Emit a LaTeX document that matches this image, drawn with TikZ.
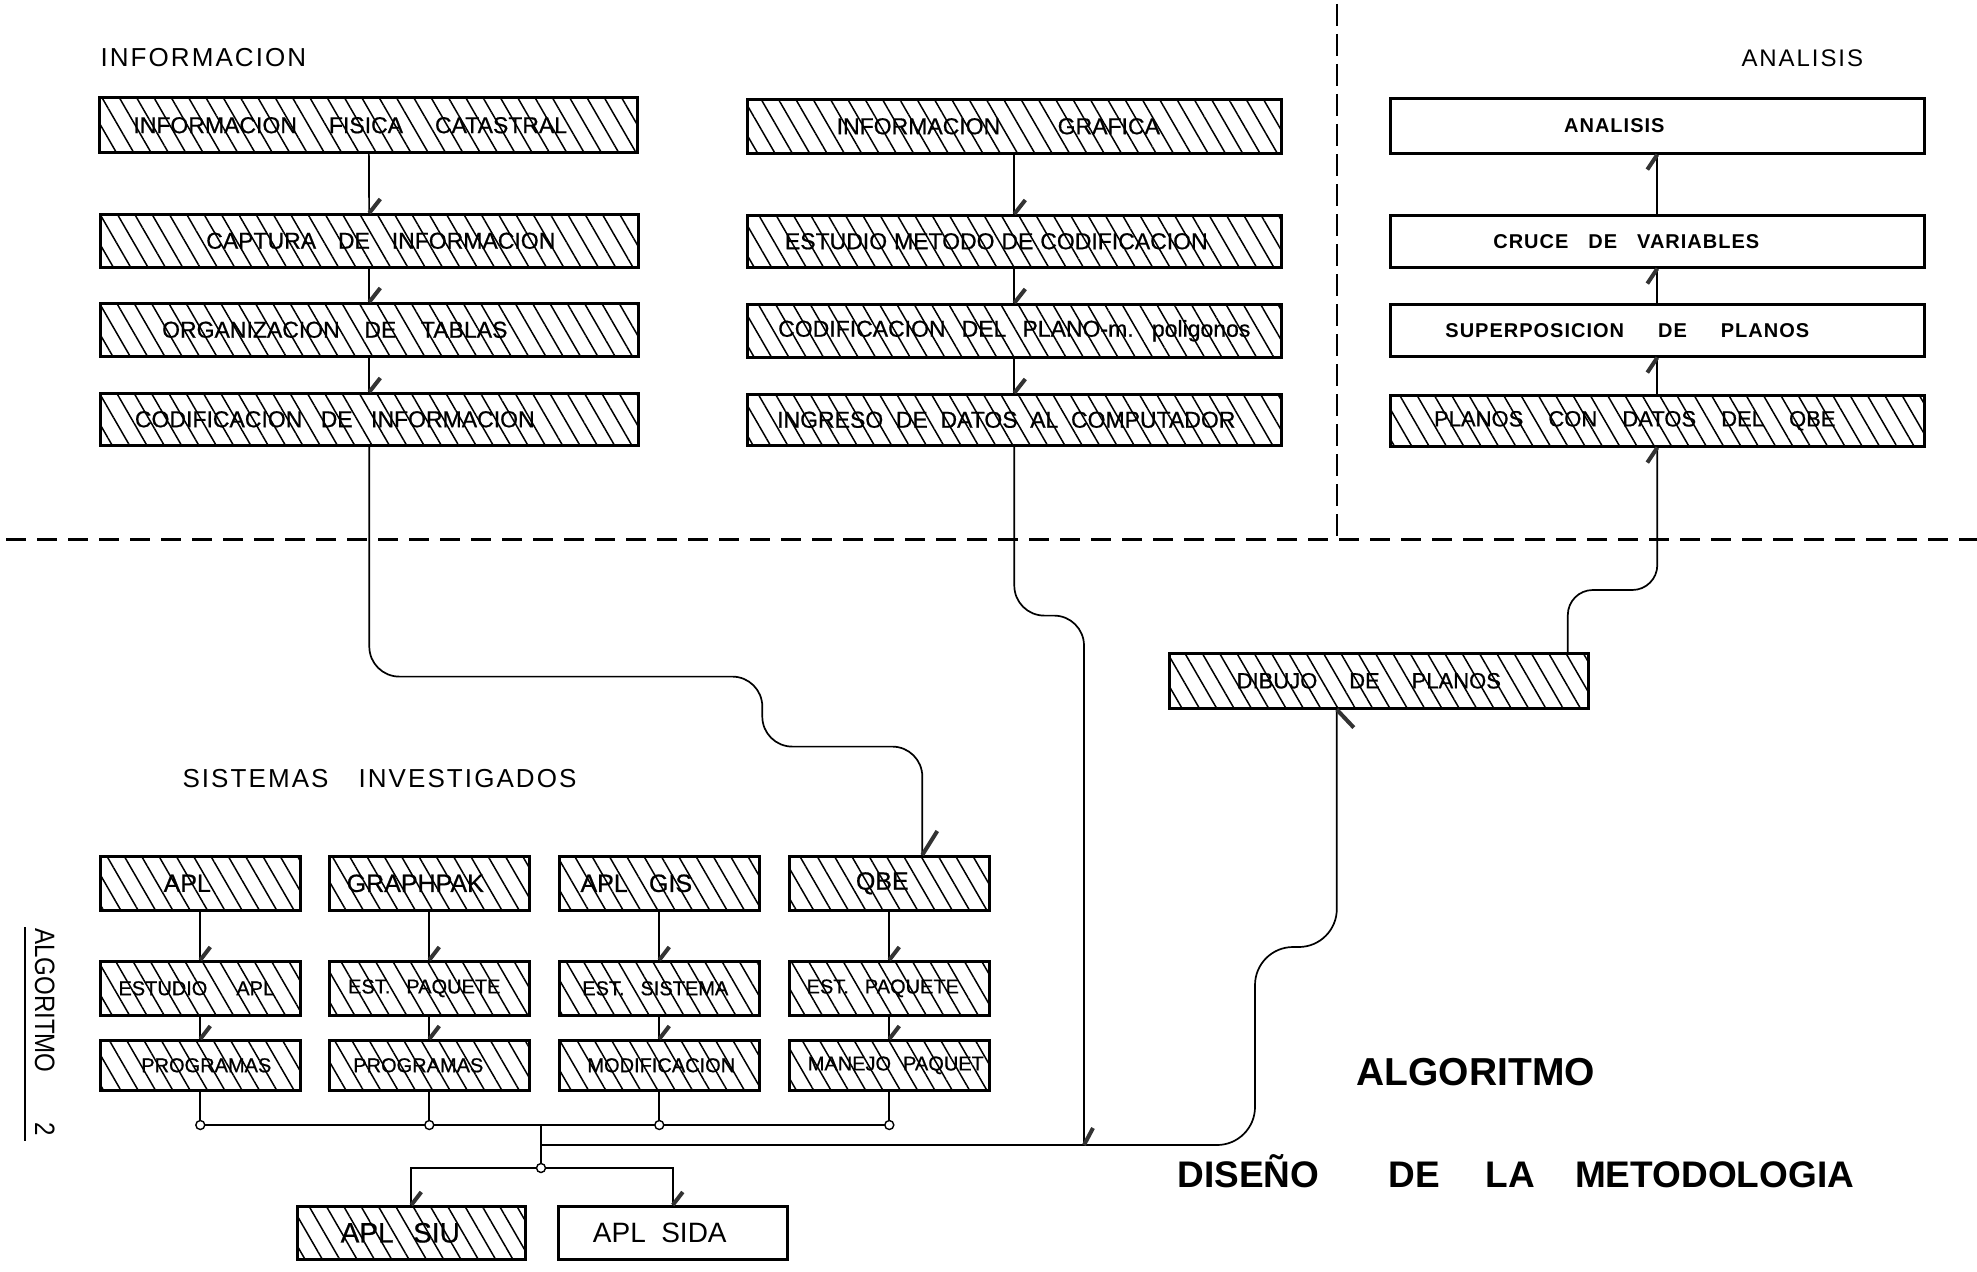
\documentclass[tikz,border=0pt]{standalone}
\usepackage{fontspec}
\setmainfont{Liberation Sans}
\newfontfamily\hdrfont[LetterSpace=8]{Liberation Sans}
\newfontfamily\anfont[LetterSpace=5]{Liberation Sans}
\newfontfamily\boxfont[FakeBold=0.7]{Liberation Sans}
\newfontfamily\narrowfont[FakeStretch=0.86]{Liberation Sans}
\usetikzlibrary{patterns.meta,calc}

% label helpers: push a label left / right inside its box, set word spacing
\newcommand\txl[2]{#2\hspace*{#1pt}}
\newcommand\txr[2]{\hspace*{#1pt}#2}
\newcommand\ws[1]{\spaceskip=#1em\relax}
\newcommand\fsz[1]{\fontsize{#1}{#1}\selectfont}
\newcommand\bsz[1]{\boxfont\fontsize{#1}{#1}\selectfont}
% short slanted stroke marking where a flow line arrives
\newcommand\arrtick[3]{\draw[tickmark] #1 -- ++(#2,#3);}

\tikzset{
  blk/.style={rectangle, draw=black, line width=2.6pt, inner sep=0pt, anchor=north west, text=black},
  hatch/.style={blk, pattern={Lines[angle=-60,distance=15pt,line width=1.5pt]}, pattern color=black},
  plain/.style={blk, fill=white},
  sz/.style 2 args={minimum width=#1pt, minimum height=#2pt},
  conn/.style={line width=1.7pt, black},
  tickmark/.style={line width=4pt, black!80},
  dot/.style={circle, draw=black, line width=1.4pt, fill=white, inner sep=0pt, minimum size=9pt},
  hdash/.style={line width=3pt, dash pattern=on 20pt off 11pt},
  vdash/.style={line width=1.6pt, dash pattern=on 22pt off 8pt},
}

\begin{document}
\begin{tikzpicture}[x=1pt,y=-1pt]
\fill[white] (0,0) rectangle (1977,1271);
\useasboundingbox (0,0) rectangle (1977,1271);

% section dividers
\draw[hdash] (6,539) -- (1977,539);
\draw[vdash] (1337,4) -- (1337,539);

% headings
\node[anchor=base west, font=\hdrfont\fsz{26}] (hinf) at (97,67) {INFORMACION};
\node[anchor=base west, font=\hdrfont\fsz{24}] (hana) at (1738,67) {ANALISIS};
\node[anchor=base west, font=\hdrfont\fsz{26}] (hsis) at (179,787) {SISTEMAS\hspace{30pt}INVESTIGADOS};
\node[anchor=base west, font=\bfseries\fsz{39}] (halg) at (1353,1085) {ALGORITMO};
\node[anchor=base west, font=\bfseries\fsz{37}] (hdis) at (1174,1187) {DISEÑO\hspace{69pt}DE\hspace{46pt}LA\hspace{40pt}METODOLOGIA};
\node[anchor=base west, rotate=-90, font=\narrowfont\fsz{28}, inner sep=0pt] (hsheet) at (35,928) {ALGORITMO\hspace*{50pt}2};
\draw[line width=2.4pt] (25,927) -- (25,1141);

% information column
\node[hatch, sz={538}{55}, font=\bsz{23}] (ifc) at (99,97) {\ws{1.39}\txl{37}{INFORMACION FISICA CATASTRAL}};
\node[hatch, sz={538}{53}, font=\bsz{23}] (cap) at (99,213) {\ws{0.95}\txr{23}{CAPTURA DE INFORMACION}};
\node[hatch, sz={538}{53}, font=\bsz{23}] (org) at (99,302) {\ws{1.07}\txl{69}{ORGANIZACION DE TABLAS}};
\node[hatch, sz={538}{52}, font=\bsz{23}] (cod) at (99,392) {\ws{0.8}\txl{69}{CODIFICACION DE INFORMACION}};

% graphic information column
\node[hatch, sz={534}{54}, font=\bsz{23}] (igr) at (746,98) {\ws{2.5}\txl{32}{INFORMACION GRAFICA}};
\node[hatch, sz={534}{52}, font=\bsz{23}] (emc) at (746,214) {\ws{0.3}\txl{36}{ESTUDIO METODO DE CODIFICACION}};
\node[hatch, sz={534}{53}, font=\bsz{23}] (cdp) at (746,303) {\ws{0.7}CODIFICACION DEL PLANO-m. poligonos};
\node[hatch, sz={534}{51}, font=\bsz{23}] (idc) at (746,393) {\ws{0.55}\txl{16}{INGRESO DE DATOS AL COMPUTADOR}};

% analysis column
\node[plain, sz={534}{55}, font=\anfont\bfseries\fsz{20}] (ana) at (1389,97) {\txl{86}{ANALISIS}};
\node[plain, sz={534}{52}, font=\anfont\bfseries\fsz{20}] (cru) at (1389,214) {\ws{1}\txl{62}{CRUCE DE VARIABLES}};
\node[plain, sz={534}{52}, font=\anfont\bfseries\fsz{20}] (sup) at (1389,303) {\ws{1.7}\txl{60}{SUPERPOSICION DE PLANOS}};
\node[hatch, sz={534}{51}, font=\bsz{22}] (pla) at (1389,394) {\ws{1.14}\txl{45}{PLANOS CON DATOS DEL QBE}};

% drawing of plans
\node[hatch, sz={419}{55}, font=\bsz{22}] (dib) at (1168,652) {\ws{1.45}\txl{20}{DIBUJO DE PLANOS}};

% investigated systems
\node[hatch, sz={200}{54}, font=\bsz{25}] (apl) at (99,855) {\txl{26}{APL}};
\node[hatch, sz={200}{54}, font=\bsz{25}] (gra) at (328,855) {\txl{28}{GRAPHPAK}};
\node[hatch, sz={200}{54}, font=\bsz{25}] (gis) at (558,855) {\ws{0.85}\txl{46}{APL GIS}};
\node[hatch, sz={200}{54}, font=\bsz{25}] (qbe) at (788,855) {\txl{14}{QBE}};

\node[hatch, sz={200}{54}, font=\bsz{20}] (est1) at (99,960) {\ws{1.45}\txl{8}{ESTUDIO APL}};
\node[hatch, sz={200}{54}, font=\bsz{20}] (est2) at (328,960) {\ws{0.8}\txl{10}{EST. PAQUETE}};
\node[hatch, sz={200}{54}, font=\bsz{20}] (est3) at (558,960) {\ws{0.8}\txl{8}{EST. SISTEMA}};
\node[hatch, sz={200}{54}, font=\bsz{20}] (est4) at (788,960) {\ws{0.8}\txl{13}{EST. PAQUETE}};

\node[hatch, sz={200}{50}, font=\bsz{20}] (prg1) at (99,1039) {\txr{12}{PROGRAMAS}};
\node[hatch, sz={200}{50}, font=\bsz{20}] (prg2) at (328,1039) {\txl{22}{PROGRAMAS}};
\node[hatch, sz={200}{50}, font=\bsz{20}] (prg3) at (558,1039) {\txr{4}{MODIFICACION}};
\node[hatch, sz={200}{50}, font=\bsz{20}] (prg4) at (788,1039) {\ws{0.6}\txr{13}{MANEJO PAQUET}};

\node[hatch, sz={228}{53}, font=\bsz{28}] (siu) at (296,1205) {\ws{0.7}\txl{22}{APL SIU}};
\node[plain, sz={229}{53}, font=\fsz{28}] (sida) at (557,1205) {\ws{0.55}\txl{26}{APL SIDA}};

% flow inside the upper columns
\draw[conn] (ifc) -- (cap);
\draw[conn] (cap) -- (org);
\draw[conn] (org) -- (cod);
\draw[conn] (igr) -- (emc);
\draw[conn] (emc) -- (cdp);
\draw[conn] (cdp) -- (idc);
\draw[conn] (pla) -- (sup);
\draw[conn] (sup) -- (cru);
\draw[conn] (cru) -- (ana);

% flow inside the system columns
\foreach \a/\b in {apl/est1, est1/prg1, gra/est2, est2/prg2, gis/est3, est3/prg3, qbe/est4, est4/prg4}
  {\draw[conn] (\a) -- (\b);}

% collecting bus below the systems
\coordinate (bus) at (0,1125);
\coordinate (c1) at (prg1.south |- bus);
\coordinate (c2) at (prg2.south |- bus);
\coordinate (c3) at (prg3.south |- bus);
\coordinate (c4) at (prg4.south |- bus);
\foreach \p/\c in {prg1/c1, prg2/c2, prg3/c3, prg4/c4}
  {\draw[conn] (\p.south) -- (\c);}
\draw[conn] (c1) -- (c4);
\coordinate (bj) at (541,1125);
\coordinate (bk) at (541,1145);
\coordinate (bc) at (541,1168);
\draw[conn] (bj) -- (bc);
\draw[conn] (bc) -| (siu.north);
\draw[conn] (bc) -| (sida.north);
\node[dot] (d1) at (c1) {};
\node[dot] (d2) at (c2) {};
\node[dot] (d3) at (c3) {};
\node[dot] (d4) at (c4) {};
\node[dot] (d5) at (bc) {};

% long routed lines
\coordinate (qin) at ($(qbe.north)+(33,0)$);
\coordinate (m2) at (1084,1145);
\coordinate (din) at ($(dib.south)+(-42,0)$);
\coordinate (dout) at ($(dib.north)+(189,0)$);
\draw[conn, rounded corners=30pt] (cod.south) -- ++(0,230) -- ++(393,0) -- ++(0,70) -| (qin);
\draw[conn, rounded corners=30pt] (idc.south) -- ++(0,169) -| (m2);
\draw[conn, rounded corners=38pt] (bk) -- ++(714,0) -- ++(0,-198) -| (din);
\draw[conn, rounded corners=25pt] (dout) -- ++(0,-62) -| (pla.south);

% arrival marks
\foreach \n in {cap, org, cod, emc, cdp, idc}
  {\arrtick{(\n.north)}{11}{-14}}
\foreach \n in {ana, cru, sup, pla}
  {\arrtick{(\n.south)}{-10}{15}}
\foreach \n in {est1, est2, est3, est4, prg1, prg2, prg3, prg4, siu, sida}
  {\arrtick{(\n.north)}{10}{-13}}
\arrtick{(qin)}{15}{-24}
\arrtick{(m2)}{9}{-17}
\arrtick{(din)}{17}{18}
\end{tikzpicture}
\end{document}
